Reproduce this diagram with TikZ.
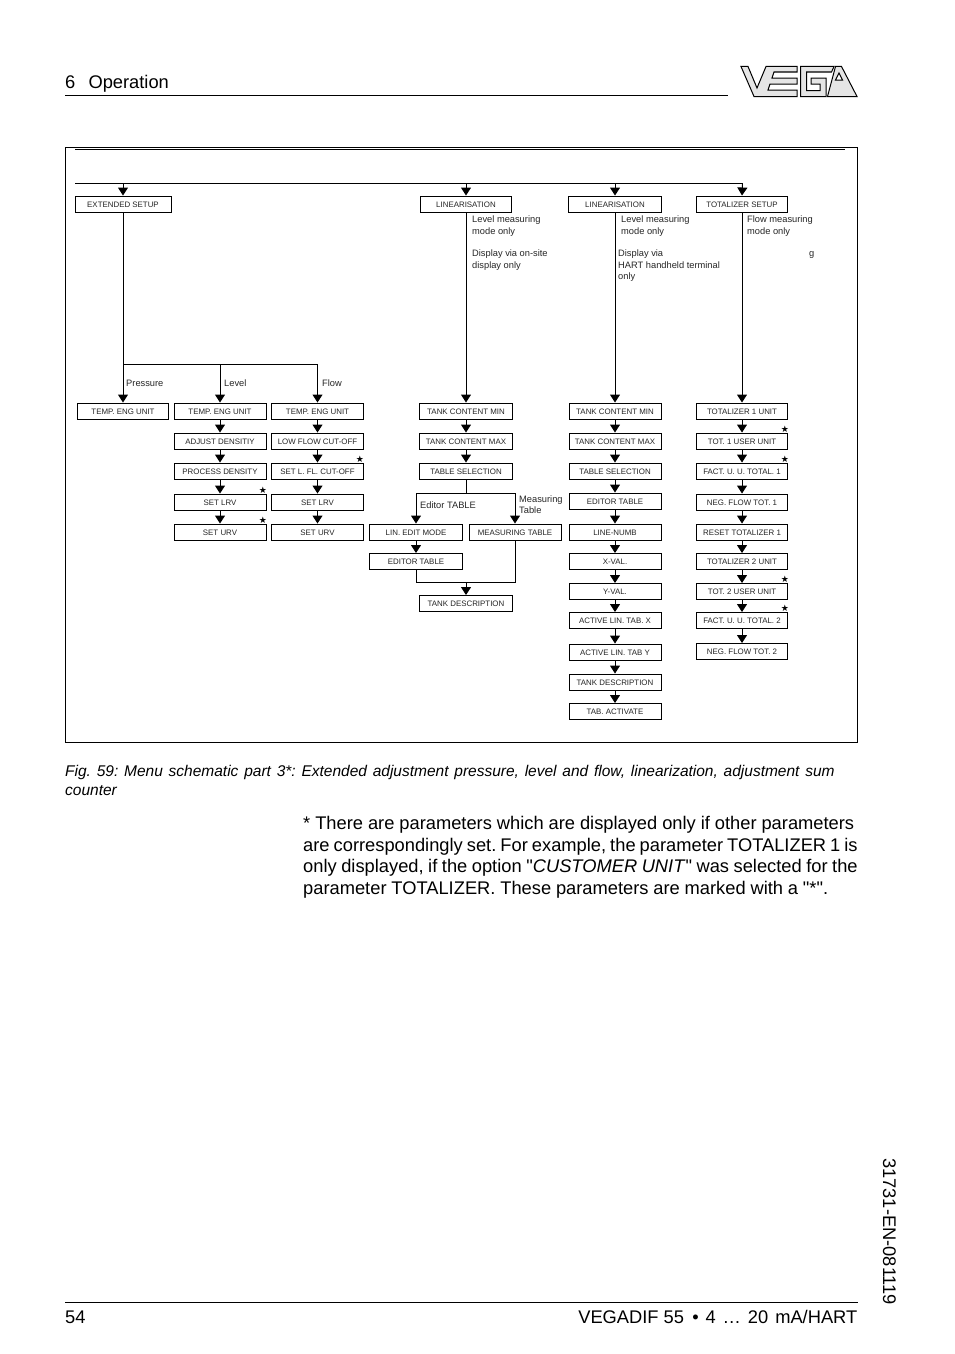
\documentclass[tikz,border=0pt]{standalone}
\usepackage{fontspec}
\setmainfont[Ligatures=TeXOff]{Liberation Sans}
\newfontfamily\symfont{DejaVu Sans}
\usetikzlibrary{arrows.meta}
\frenchspacing
\tikzset{
  line/.style={draw=black,line width=0.95pt},
  arr/.style={line,-{Triangle[width=10pt,length=8pt]}},
  menubox/.style={draw=black,line width=0.95pt,fill=white,inner sep=0pt,minimum height=16pt,text height=6.8pt,text depth=0pt,font=\fontsize{7.9}{9}\selectfont,text=black!85},
  note/.style={anchor=base west,inner sep=0pt,font=\fontsize{9.3}{11}\selectfont,text=black!85},
  starmark/.style={inner sep=0pt,font=\fontsize{9}{9}\symfont},
  plain/.style={anchor=base west,inner sep=0pt,font=\fontsize{18.3}{21}\selectfont},
  capt/.style={anchor=base west,inner sep=0pt,font=\fontsize{15.5}{18}\itshape},
  logo/.style={draw=black,line width=1pt,fill=black!10,line join=miter,even odd rule},
}
\newcommand{\mbx}[5]{\node[menubox,minimum width=#2pt] (#1) at (#3,#4) {#5};}
\begin{document}
\begin{tikzpicture}[x=1pt,y=-1pt]
\path[use as bounding box,fill=white] (0,0) rectangle (954,1354);
% page furniture
\node[plain] (hd) at (65,88.5) {6\hspace{0.72em}Operation};
\coordinate (hl) at (65,95); \coordinate (hr) at (728,95);
\draw[line] (hl) -- (hr);
\coordinate (fl) at (65,1302.5); \coordinate (fr) at (857.5,1302.5);
\draw[line,line width=0.7pt] (fl) -- (fr);
\node[plain] (pg) at (65,1323) {54};
\node[plain,anchor=base east] (ft) at (857.5,1323) {VEGADIF 55\hspace{0.45em}\makebox[165pt][s]{• 4 … 20 mA/HART}};
\node[plain,rotate=-90,anchor=base west] (sd) at (883,1158) {31731-EN-081119};
% logo
\draw[logo] (741,66.5) -- (748,66.5) -- (757,88) -- (766,66.5) -- (797,66.5) -- (797,72) -- (774,72) -- (772,78) -- (797,78) -- (797,84) -- (770,84) -- (768,90) -- (797,90) -- (797,96.5) -- (754,96.5) -- cycle;
\draw[logo] (800.5,66.5) -- (834,66.5) -- (831.5,72) -- (806.5,72) -- (806.5,90.5) -- (820,90.5) -- (820,84) -- (811,84) -- (811,78) -- (826,78) -- (826,96.5) -- (800.5,96.5) -- cycle;
\draw[logo] (835.5,66.5) -- (841.5,66.5) -- (857,96.5) -- (827.5,96.5) -- cycle (839,73) -- (835.5,80) -- (842.5,80) -- cycle;
% frame
\draw[line,line width=1pt] (65.5,147.5) rectangle (857.5,742.5);
\coordinate (dl) at (75,149); \coordinate (dr) at (845,149);
\draw[line] (dl) -- (dr);
\coordinate (tl) at (75,183.5); \coordinate (tr) at (742.5,183.5);
\draw[line] (tl) -- (tr);
\coordinate (ta) at (123,183.5); \coordinate (tb) at (466,183.5); \coordinate (tc) at (615,183.5);
% boxes: column 1
\mbx{ext}{96}{123}{204}{EXTENDED SETUP}
\mbx{pt}{91.5}{123}{411}{TEMP. ENG UNIT}
% level
\mbx{lt}{92}{220}{411}{TEMP. ENG UNIT}
\mbx{la}{92}{220}{441}{ADJUST DENSITIY}
\mbx{lp}{92}{220}{471}{PROCESS DENSITY}
\mbx{ll}{92}{220}{502}{SET LRV}
\mbx{lu}{92}{220}{532}{SET URV}
% flow
\mbx{ft1}{91.5}{317.5}{411}{TEMP. ENG UNIT}
\mbx{fa}{91.5}{317.5}{441}{LOW FLOW CUT-OFF}
\mbx{fs}{91.5}{317.5}{471}{SET L. FL. CUT-OFF}
\mbx{fl1}{91.5}{317.5}{502}{SET LRV}
\mbx{fu}{91.5}{317.5}{532}{SET URV}
% linearisation 1
\mbx{ha}{91}{466}{204}{LINEARISATION}
\mbx{aa}{93}{466}{411}{TANK CONTENT MIN}
\mbx{ab}{93}{466}{441}{TANK CONTENT MAX}
\mbx{ac}{93}{466}{471}{TABLE SELECTION}
\mbx{ledit}{93}{416}{532}{LIN. EDIT MODE}
\mbx{meas}{92}{515}{532}{MEASURING TABLE}
\mbx{edit}{93}{416}{561.5}{EDITOR TABLE}
\mbx{ad}{93}{466}{603.5}{TANK DESCRIPTION}
% linearisation 2
\mbx{hb}{93}{615}{204}{LINEARISATION}
\mbx{ba}{92}{615}{411}{TANK CONTENT MIN}
\mbx{bb}{92}{615}{441}{TANK CONTENT MAX}
\mbx{bc}{92}{615}{471}{TABLE SELECTION}
\mbx{bd}{92}{615}{501}{EDITOR TABLE}
\mbx{be}{92}{615}{532}{LINE-NUMB}
\mbx{bf}{92}{615}{561.5}{X-VAL.}
\mbx{bg}{92}{615}{591.5}{Y-VAL.}
\mbx{bh}{92}{615}{620.5}{ACTIVE LIN. TAB. X}
\mbx{bi}{92}{615}{652}{ACTIVE LIN. TAB Y}
\mbx{bj}{92}{615}{682}{TANK DESCRIPTION}
\mbx{bk}{92}{615}{711.5}{TAB. ACTIVATE}
% totalizer
\mbx{hc}{91.5}{742}{204}{TOTALIZER SETUP}
\mbx{ca}{91.5}{742}{411}{TOTALIZER 1 UNIT}
\mbx{cb}{91.5}{742}{441}{TOT. 1 USER UNIT}
\mbx{cc}{91.5}{742}{471}{FACT. U. U. TOTAL. 1}
\mbx{cd}{91.5}{742}{502}{NEG. FLOW TOT. 1}
\mbx{ce}{91.5}{742}{532}{RESET TOTALIZER 1}
\mbx{cf}{91.5}{742}{561.5}{TOTALIZER 2 UNIT}
\mbx{cg}{91.5}{742}{591.5}{TOT. 2 USER UNIT}
\mbx{ch}{91.5}{742}{620.5}{FACT. U. U. TOTAL. 2}
\mbx{ci}{91.5}{742}{651.5}{NEG. FLOW TOT. 2}
% connectors from the top line
\draw[arr] (ta) -- (ext.north);
\draw[arr] (tb) -- (ha.north);
\draw[arr] (tc) -- (hb.north);
\draw[arr] (tr) -- (hc.north);
% extended
\coordinate (jp) at (123,364);
\draw[arr] (ext.south) -- (pt.north);
\draw[arr] (jp) -| (lt.north);
\draw[arr] (jp) -| (ft1.north);
\foreach \a/\b in {lt/la,la/lp,lp/ll,ll/lu,ft1/fa,fa/fs,fs/fl1,fl1/fu,
  ha/aa,aa/ab,ab/ac,ledit/edit,
  hb/ba,ba/bb,bb/bc,bc/bd,bd/be,be/bf,bf/bg,bg/bh,bh/bi,bi/bj,bj/bk,
  hc/ca,ca/cb,cb/cc,cc/cd,cd/ce,ce/cf,cf/cg,cg/ch,ch/ci}
  {\draw[arr] (\a.south) -- (\b.north);}
% table selection branch
\coordinate (jt) at (466,493.5);
\coordinate (jb) at (466,582.5);
\draw[line] (ac.south) -- (jt);
\draw[arr] (jt) -| (ledit.north);
\draw[arr] (jt) -| (meas.north);
\draw[line] (edit.south) |- (jb);
\draw[line] (jb) -| (meas.south);
\draw[arr] (jb) -- (ad.north);
% notes
\node[note] (n1) at (126,386) {Pressure};
\node[note] (n2) at (224,386) {Level};
\node[note] (n3) at (322,386) {Flow};
\node[note] (n4) at (472,222) {Level measuring};
\node[note] (n5) at (472,234) {mode only};
\node[note] (n6) at (472,256) {Display via on-site};
\node[note] (n7) at (472,268) {display only};
\node[note] (n8) at (621,222) {Level measuring};
\node[note] (n9) at (621,234) {mode only};
\node[note] (n10) at (618,256) {Display via};
\node[note] (n11) at (618,268) {HART handheld terminal};
\node[note] (n12) at (618,279) {only};
\node[note] (n13) at (747,222) {Flow measuring};
\node[note] (n14) at (747,234) {mode only};
\node[note] (n15) at (809,256) {g};
\node[note] (n16) at (420,508) {Editor TABLE};
\node[note] (n17) at (519,502) {Measuring};
\node[note] (n18) at (519,513) {Table};
% stars
\node[starmark] (s1) at (263,490) {★};
\node[starmark] (s2) at (263,520.5) {★};
\node[starmark] (s3) at (360,459.5) {★};
\node[starmark] (s4) at (785,429.5) {★};
\node[starmark] (s5) at (785,459.5) {★};
\node[starmark] (s6) at (785,579) {★};
\node[starmark] (s7) at (785,608.5) {★};
% caption
\node[capt] (c1) at (65,776) {\makebox[769.5pt][s]{Fig. 59: Menu schematic part 3*: Extended adjustment pressure, level and flow, linearization, adjustment sum}};
\node[capt] (c2) at (65,795) {counter};
% paragraph
\node[plain] (p1) at (303,829) {\makebox[551pt][s]{* There are parameters which are displayed only if other parameters}};
\node[plain] (p2) at (303,851) {\makebox[554.5pt][s]{are correspondingly set. For example, the parameter TOTALIZER 1 is}};
\node[plain] (p3) at (303,872) {\makebox[554.5pt][s]{only displayed, if the option "\textit{CUSTOMER UNIT}" was selected for the}};
\node[plain] (p4) at (303,894) {\makebox[525pt][s]{parameter TOTALIZER. These parameters are marked with a "*".}};
\end{tikzpicture}
\end{document}
